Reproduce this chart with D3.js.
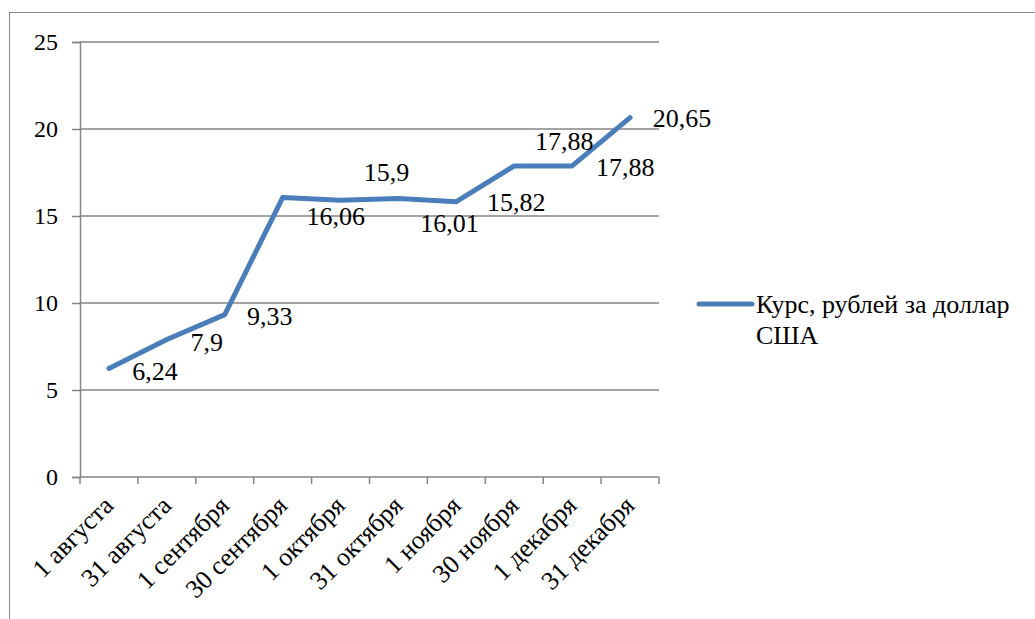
<!DOCTYPE html>
<html lang="ru">
<head>
<meta charset="utf-8">
<title>Курс, рублей за доллар США</title>
<script src="https://d3js.org/d3.v7.min.js"></script>
<style>
  body { margin: 0; background: #fff; }
  svg text { fill: #000; }
</style>
</head>
<body>
<script>
// categories and values
var dates = ["1 августа", "31 августа", "1 сентября", "30 сентября", "1 октября",
             "31 октября", "1 ноября", "30 ноября", "1 декабря", "31 декабря"];
var rate = [6.24, 7.9, 9.33, 16.06, 15.9, 16.01, 15.82, 17.88, 17.88, 20.65];
var yTicks = [0, 5, 10, 15, 20, 25];
var seriesName = ["Курс, рублей за доллар", "США"];

// where each data label sits relative to its point (px)
var labelShift = [[46, 2], [40, 2], [45, 1], [53, 18], [46, -28], [51, 24],
                  [60, 0], [50, -25], [53, 1], [52, 0]];

var W = 1035, H = 619;
var gridCol = "#868686", lineCol = "#4a7ebb";
var serif = "'Liberation Serif', 'DejaVu Serif', 'Times New Roman', serif";

var svg = d3.select("body").append("svg")
    .attr("width", W)
    .attr("height", H)
    .attr("font-family", serif);

// chart frame (runs off the right and bottom edge like the original)
svg.append("rect")
    .attr("x", 9.5).attr("y", 12.5)
    .attr("width", 1040).attr("height", 620)
    .attr("fill", "none")
    .attr("stroke", gridCol);

var x = d3.scaleBand().domain(dates).range([80, 659]);
var y = d3.scaleLinear().domain([0, 25]).range([477, 42]);

// y axis ticks
var yAxis = svg.append("g")
    .attr("transform", "translate(80,0)")
    .call(d3.axisLeft(y).tickValues(yTicks).tickSize(8).tickPadding(14));
yAxis.attr("font-family", serif).attr("font-size", 24);
yAxis.select(".domain").attr("stroke", gridCol).attr("stroke-width", 1.5);
yAxis.selectAll(".tick line").attr("stroke", gridCol).attr("stroke-width", 1.5);

// horizontal gridlines
svg.append("g").selectAll("line")
    .data(yTicks.filter(function(d) { return d > 0; }))
    .enter().append("line")
    .attr("x1", 80).attr("x2", 659)
    .attr("y1", function(d) { return y(d); })
    .attr("y2", function(d) { return y(d); })
    .attr("stroke", gridCol)
    .attr("stroke-width", 1.5);

// x axis with ticks between categories
var xAxis = svg.append("g").attr("transform", "translate(0," + y(0) + ")");
xAxis.append("line")
    .attr("x1", 80).attr("x2", 659)
    .attr("stroke", gridCol).attr("stroke-width", 1.5);
var bounds = dates.map(function(d) { return x(d); }).concat([x.range()[1]]);
xAxis.selectAll(".tk")
    .data(bounds)
    .enter().append("line")
    .attr("class", "tk")
    .attr("x1", function(d) { return d; })
    .attr("x2", function(d) { return d; })
    .attr("y1", 0).attr("y2", 7)
    .attr("stroke", gridCol).attr("stroke-width", 1.5);

svg.append("g").selectAll("text")
    .data(dates)
    .enter().append("text")
    .attr("transform", function(d) {
        return "translate(" + (x(d) + x.bandwidth() / 2 + 6) + ",507) rotate(-45)";
    })
    .attr("text-anchor", "end")
    .attr("font-size", 26)
    .text(function(d) { return d; });

// the series line
var line = d3.line()
    .x(function(d, i) { return x(dates[i]) + x.bandwidth() / 2; })
    .y(function(d) { return y(d); });

svg.append("path")
    .datum(rate)
    .attr("d", line)
    .attr("fill", "none")
    .attr("stroke", lineCol)
    .attr("stroke-width", 5)
    .attr("stroke-linejoin", "round")
    .attr("stroke-linecap", "round");

// data labels
svg.append("g").selectAll("text")
    .data(rate)
    .enter().append("text")
    .attr("x", function(d, i) { return x(dates[i]) + x.bandwidth() / 2 + labelShift[i][0]; })
    .attr("y", function(d, i) { return y(d) + labelShift[i][1]; })
    .attr("dy", "0.35em")
    .attr("text-anchor", "middle")
    .attr("font-size", 26)
    .text(function(d) { return String(d).replace(".", ","); });

// legend
var lg = svg.append("g").attr("transform", "translate(699,304)");
lg.append("line")
    .attr("x1", 0).attr("x2", 53)
    .attr("stroke", lineCol)
    .attr("stroke-width", 5)
    .attr("stroke-linecap", "round");
lg.selectAll("text")
    .data(seriesName)
    .enter().append("text")
    .attr("x", 57)
    .attr("y", function(d, i) { return i * 31; })
    .attr("dy", "0.35em")
    .attr("font-size", 26)
    .text(function(d) { return d; });
</script>
</body>
</html>
